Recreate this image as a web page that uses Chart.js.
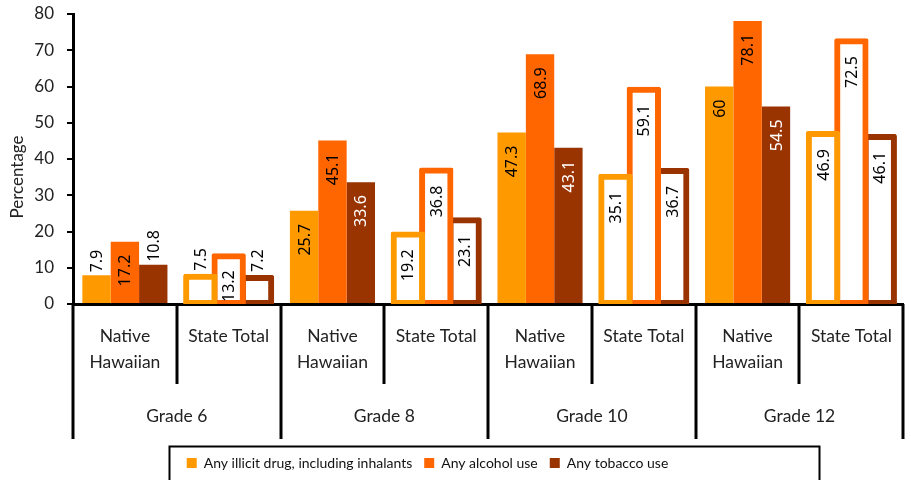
<!DOCTYPE html>
<html>
<head>
<meta charset="utf-8">
<script src="https://cdn.jsdelivr.net/npm/chart.js@4/dist/chart.umd.min.js"></script>
<style>
  html, body { margin: 0; padding: 0; background: #fff; }
  #wrap { width: 911px; height: 480px; position: relative; }
</style>
</head>
<body>
<div id="wrap"><canvas id="c" width="911" height="480"></canvas></div>
<script>
// ---- data ----
const grades = ['Grade 6', 'Grade 8', 'Grade 10', 'Grade 12'];
const subgroups = [['Native', 'Hawaiian'], ['State Total']];
const seriesNames = ['Any illicit drug, including inhalants', 'Any alcohol use', 'Any tobacco use'];
const illicit = [7.9, 7.5, 25.7, 19.2, 47.3, 35.1, 60, 46.9];
const alcohol = [17.2, 13.2, 45.1, 36.8, 68.9, 59.1, 78.1, 72.5];
const tobacco = [10.8, 7.2, 33.6, 23.1, 43.1, 36.7, 54.5, 46.1];
const yTicks = [0, 10, 20, 30, 40, 50, 60, 70, 80];
const yTitle = 'Percentage';

// ---- styling ----
const colors = ['#FF9900', '#FF6600', '#993300'];
const labelColorsInside = ['#000', '#000', '#fff'];
const humanist = 'Lato, "Open Sans", sans-serif';
const valueFont = '"Noto Sans", "Open Sans", sans-serif';
const legendShift = -27;

const categories = [];
grades.forEach(() => subgroups.forEach(s => categories.push(s.length > 1 ? s : s[0])));

function makeDataset(name, data, si) {
  return {
    label: name,
    data: data,
    backgroundColor: ctx => (ctx.dataIndex % 2 === 1 ? '#ffffff' : colors[si]),
    borderColor: colors[si],
    borderWidth: ctx => (ctx.dataIndex % 2 === 1 ? 6 : 0),
    borderSkipped: ctx => (ctx.dataIndex % 2 === 1 ? false : 'start'),
    borderRadius: ctx => (ctx.dataIndex % 2 === 1 ? 2 : 0),
    inflateAmount: ctx => (ctx.dataIndex % 2 === 1 ? 3 : 0),
    categoryPercentage: 0.82,
    barPercentage: 1.0
  };
}

const valueLabels = {
  id: 'valueLabels',
  afterDatasetsDraw(chart) {
    const ctx = chart.ctx;
    ctx.save();
    ctx.font = '16px ' + valueFont;
    chart.data.datasets.forEach((ds, si) => {
      const meta = chart.getDatasetMeta(si);
      meta.data.forEach((bar, i) => {
        const v = ds.data[i];
        const txt = String(v);
        const w = ctx.measureText(txt).width;
        const h = bar.base - bar.y;
        const outlined = i % 2 === 1;
        const off = outlined ? 15 : 13;
        ctx.save();
        if (h < w + 8) {
          ctx.translate(bar.x, bar.y - (outlined ? 6 : 3));
          ctx.rotate(-Math.PI / 2);
          ctx.textAlign = 'left';
          ctx.fillStyle = '#000';
        } else {
          const start = Math.min(bar.y + off, bar.base - w - 1);
          ctx.translate(bar.x, start);
          ctx.rotate(-Math.PI / 2);
          ctx.textAlign = 'right';
          ctx.fillStyle = outlined ? '#000' : labelColorsInside[si];
        }
        ctx.textBaseline = 'middle';
        ctx.fillText(txt, 0, 1);
        ctx.restore();
      });
    });
    ctx.restore();
  }
};

const axisDecor = {
  id: 'axisDecor',
  afterLayout(chart) {
    const lg = chart.legend;
    if (lg) { lg.left += legendShift; lg.right += legendShift; }
  },
  afterDraw(chart) {
    const ctx = chart.ctx;
    const xs = chart.scales.x;
    const ys = chart.scales.y;
    const n = categories.length;
    const p0 = xs.getPixelForValue(0);
    const step = xs.getPixelForValue(1) - p0;
    ctx.save();
    // y axis title
    ctx.save();
    ctx.fillStyle = '#222';
    ctx.font = '17px ' + humanist;
    ctx.textAlign = 'center';
    ctx.textBaseline = 'middle';
    ctx.translate(ys.left + 18, (ys.top + ys.bottom) / 2 + 18);
    ctx.rotate(-Math.PI / 2);
    ctx.fillText(yTitle, 0, 0);
    ctx.restore();
    // category separators
    ctx.strokeStyle = '#000';
    ctx.lineWidth = 3;
    for (let i = 0; i <= n; i++) {
      const x = Math.round(p0 + (i - 0.5) * step);
      const long = i % 2 === 0;
      ctx.beginPath();
      ctx.moveTo(x, xs.top);
      ctx.lineTo(x, xs.top + (long ? 135 : 80));
      ctx.stroke();
    }
    // grade labels
    ctx.fillStyle = '#222';
    ctx.font = '17.5px ' + humanist;
    ctx.textAlign = 'center';
    ctx.textBaseline = 'middle';
    grades.forEach((g, gi) => {
      const cx = (xs.getPixelForValue(2 * gi) + xs.getPixelForValue(2 * gi + 1)) / 2;
      ctx.fillText(g, cx, xs.top + 112);
    });
    // legend frame
    const lg = chart.legend;
    if (lg && lg.legendItems && lg.legendItems.length) {
      ctx.font = '14px ' + humanist;
      const items = lg.legendItems;
      let itemsW = 0;
      items.forEach((it, k) => {
        itemsW += 10 + 7 + ctx.measureText(it.text).width + (k < items.length - 1 ? 12 : 0);
      });
      const cx = (lg.left + lg.right) / 2;
      const left = cx - itemsW / 2 - 18;
      const right = cx + itemsW / 2 + 150;
      const top = xs.bottom + 2;
      ctx.lineWidth = 2;
      ctx.strokeRect(Math.round(left) + 0.5, Math.round(top) + 0.5, Math.round(right - left), 60);
    }
    ctx.restore();
  }
};

new Chart(document.getElementById('c'), {
  type: 'bar',
  data: {
    labels: categories,
    datasets: [
      makeDataset(seriesNames[0], illicit, 0),
      makeDataset(seriesNames[1], alcohol, 1),
      makeDataset(seriesNames[2], tobacco, 2)
    ]
  },
  options: {
    responsive: false,
    animation: false,
    layout: { padding: { top: 14, right: 2, left: 0, bottom: 0 } },
    plugins: {
      legend: {
        position: 'bottom',
        fullSize: true,
        labels: {
          boxWidth: 10,
          boxHeight: 10,
          padding: 12,
          color: '#111',
          font: { family: humanist, size: 14 },
          generateLabels(chart) {
            return chart.data.datasets.map((ds, i) => ({
              text: ds.label,
              fillStyle: colors[i],
              strokeStyle: colors[i],
              lineWidth: 0,
              hidden: false,
              datasetIndex: i,
              fontColor: '#111'
            }));
          }
        }
      },
      tooltip: { enabled: false }
    },
    scales: {
      x: {
        z: 1,
        grid: { display: false, drawTicks: false },
        border: { display: true, color: '#000', width: 3 },
        ticks: {
          color: '#222',
          padding: 19,
          maxRotation: 0,
          autoSkip: false,
          font: { family: humanist, size: 17.5, lineHeight: 1.5 }
        },
        afterFit(scale) { scale.height = 140; }
      },
      y: {
        min: 0,
        max: 80,
        afterBuildTicks(scale) { scale.ticks = yTicks.map(v => ({ value: v })); },
        grid: { drawOnChartArea: false, drawTicks: true, tickLength: 6, color: '#000', lineWidth: 2 },
        border: { display: true, color: '#000', width: 3 },
        ticks: {
          color: '#222',
          padding: 13,
          font: { family: humanist, size: 17 }
        },
        title: { display: false },
        afterFit(scale) { scale.width = 73; scale.paddingTop = 0; scale.paddingBottom = 0; }
      }
    }
  },
  plugins: [valueLabels, axisDecor]
});
</script>
</body>
</html>
